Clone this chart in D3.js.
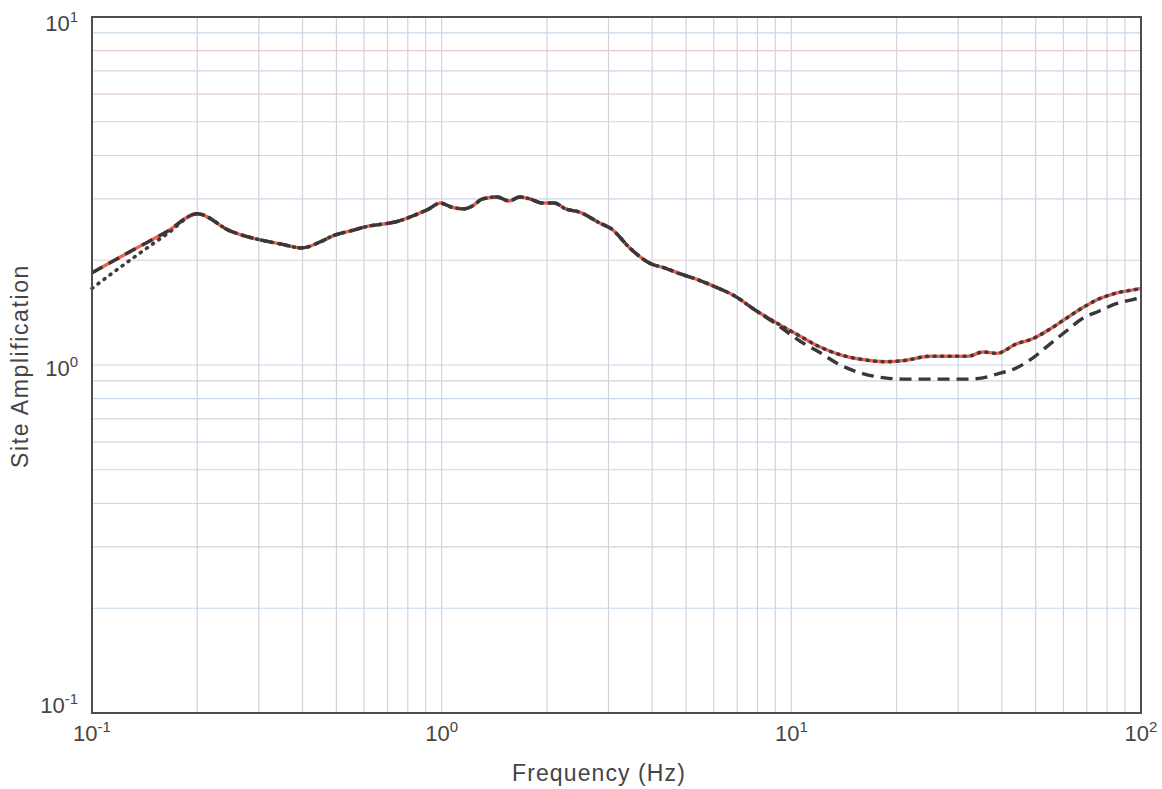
<!DOCTYPE html>
<html>
<head>
<meta charset="utf-8">
<script src="https://cdn.jsdelivr.net/npm/d3@7"></script>
<style>
  html, body { margin: 0; padding: 0; background: #ffffff; }
  svg { display: block; font-family: "Liberation Sans", Arial, Helvetica, sans-serif; }
</style>
</head>
<body>
<svg id="chart" width="1162" height="789"></svg>
<script>
// Frequency grid (Hz) shared by the three amplification curves
const frequency = [
  0.100, 0.131, 0.164, 0.200, 0.248, 0.296, 0.344, 0.398, 0.450, 0.488,
  0.550, 0.622, 0.678, 0.740, 0.826, 0.920, 0.990, 1.07, 1.16, 1.22,
  1.31, 1.44, 1.56, 1.67, 1.79, 1.94, 2.10, 2.26, 2.48, 2.83,
  3.06, 3.45, 3.94, 4.35, 4.79, 5.30, 6.03, 6.88, 7.95, 8.97,
  10.6, 12.0, 13.8, 16.0, 18.5, 21.0, 25.0, 28.0, 32.0, 35.3,
  38.7, 44.0, 49.0, 55.0, 61.0, 68.0, 76.0, 85.0, 97.0, 100.0
];

// Solid (red) curve
const solidAmp = [
  1.84, 2.14, 2.42, 2.72, 2.43, 2.30, 2.23, 2.17, 2.26, 2.35,
  2.43, 2.51, 2.54, 2.58, 2.68, 2.81, 2.92, 2.84, 2.81, 2.86,
  3.00, 3.04, 2.96, 3.04, 3.00, 2.92, 2.92, 2.81, 2.75, 2.56,
  2.46, 2.17, 1.96, 1.90, 1.83, 1.77, 1.68, 1.58, 1.43, 1.33,
  1.21, 1.13, 1.07, 1.037, 1.022, 1.03, 1.06, 1.06, 1.06, 1.09,
  1.08, 1.15, 1.19, 1.27, 1.36, 1.46, 1.55, 1.61, 1.65, 1.66
];

// Dotted curve
const dottedAmp = [
  1.66, 2.03, 2.38, 2.72, 2.43, 2.30, 2.23, 2.17, 2.26, 2.35,
  2.43, 2.51, 2.54, 2.58, 2.68, 2.81, 2.92, 2.84, 2.81, 2.86,
  3.00, 3.04, 2.96, 3.04, 3.00, 2.92, 2.92, 2.81, 2.75, 2.56,
  2.46, 2.17, 1.96, 1.90, 1.83, 1.77, 1.68, 1.58, 1.43, 1.33,
  1.21, 1.13, 1.07, 1.037, 1.022, 1.03, 1.06, 1.06, 1.06, 1.09,
  1.08, 1.15, 1.19, 1.27, 1.36, 1.46, 1.55, 1.61, 1.65, 1.66
];

// Dashed curve
const dashedAmp = [
  1.84, 2.14, 2.42, 2.72, 2.43, 2.30, 2.23, 2.17, 2.26, 2.35,
  2.43, 2.51, 2.54, 2.58, 2.68, 2.81, 2.92, 2.84, 2.81, 2.86,
  3.00, 3.04, 2.96, 3.04, 3.00, 2.92, 2.92, 2.81, 2.75, 2.56,
  2.46, 2.17, 1.96, 1.90, 1.83, 1.77, 1.68, 1.58, 1.43, 1.32,
  1.17, 1.09, 1.00, 0.945, 0.918, 0.911, 0.911, 0.911, 0.911, 0.918,
  0.942, 0.98, 1.047, 1.15, 1.25, 1.36, 1.43, 1.50, 1.55, 1.56
];

// Decade tick labels: mantissa and exponent
const xTickValues = [0.1, 1, 10, 100];
const xTickExponents = ["-1", "0", "1", "2"];
const yTickValues = [0.1, 1, 10];
const yTickExponents = ["-1", "0", "1"];

const xTitle = "Frequency (Hz)";
const yTitle = "Site Amplification";

// ---- layout ----
const svg = d3.select("#chart");
const plot = { left: 92, top: 17, right: 1141, bottom: 713 };

const x = d3.scaleLog().domain([0.1, 100]).range([plot.left, plot.right]);
const y = d3.scaleLog().domain([0.1, 10]).range([plot.bottom, plot.top]);

// Minor + major grid values (1..9 per decade)
function gridValues(lo, hi) {
  const out = [];
  for (let e = Math.round(Math.log10(lo)); e < Math.round(Math.log10(hi)); e++) {
    for (let m = 1; m <= 9; m++) out.push(m * Math.pow(10, e));
  }
  out.push(hi);
  return out;
}

const grid = svg.append("g").attr("class", "grid");
grid.selectAll("line.v")
  .data(gridValues(0.1, 100).filter(v => v > 0.1 && v < 100))
  .join("line")
  .attr("class", "v")
  .attr("x1", d => x(d)).attr("x2", d => x(d))
  .attr("y1", plot.top).attr("y2", plot.bottom)
  .attr("stroke", "#d4d1df").attr("stroke-width", 1.2);

grid.selectAll("line.h")
  .data(gridValues(0.1, 10).filter(v => v > 0.1 && v < 10))
  .join("line")
  .attr("class", "h")
  .attr("x1", plot.left).attr("x2", plot.right)
  .attr("y1", d => y(d)).attr("y2", d => y(d))
  .attr("stroke", (d, i) => (i % 2 ? "#e2ccd4" : "#c8d8e8"))
  .attr("stroke-width", 1.2);

// ---- curves ----
const rows = frequency.map((f, i) => ({ f, s: solidAmp[i], o: dottedAmp[i], d: dashedAmp[i] }));
const lineFor = key => d3.line()
  .x(r => x(r.f))
  .y(r => y(r[key]))
  .curve(d3.curveMonotoneX);

svg.append("path").datum(rows)
  .attr("d", lineFor("s"))
  .attr("fill", "none").attr("stroke", "#f2604f").attr("stroke-width", 3.4);

svg.append("path").datum(rows)
  .attr("d", lineFor("o"))
  .attr("fill", "none").attr("stroke", "#3c3c3c").attr("stroke-width", 3.6)
  .attr("stroke-dasharray", "1,6.5").attr("stroke-linecap", "round");

svg.append("path").datum(rows)
  .attr("d", lineFor("d"))
  .attr("fill", "none").attr("stroke", "#383838").attr("stroke-width", 3.4)
  .attr("stroke-dasharray", "12,7");

// ---- frame ----
svg.append("rect")
  .attr("x", plot.left).attr("y", plot.top)
  .attr("width", plot.right - plot.left).attr("height", plot.bottom - plot.top)
  .attr("fill", "none").attr("stroke", "#4e4e4e").attr("stroke-width", 2);

// ---- tick labels ----
const textColor = "#454545";

const xLab = svg.append("g").selectAll("text")
  .data(xTickValues)
  .join("text")
  .attr("x", d => x(d))
  .attr("y", 741)
  .attr("text-anchor", "middle")
  .attr("fill", textColor)
  .attr("font-size", 22);
xLab.append("tspan").text("10");
xLab.append("tspan").attr("font-size", 15).attr("dy", -9).text((d, i) => xTickExponents[i]);

const yOffsets = [0, 11, 14];
const yLab = svg.append("g").selectAll("text")
  .data(yTickValues)
  .join("text")
  .attr("x", 78)
  .attr("y", (d, i) => y(d) + yOffsets[i])
  .attr("text-anchor", "end")
  .attr("fill", textColor)
  .attr("font-size", 22);
yLab.append("tspan").text("10");
yLab.append("tspan").attr("font-size", 15).attr("dy", -9).text((d, i) => yTickExponents[i]);

// ---- axis titles ----
svg.append("text")
  .attr("x", 599)
  .attr("y", 781)
  .attr("text-anchor", "middle")
  .attr("fill", textColor)
  .attr("font-size", 23)
  .attr("letter-spacing", 1.1)
  .text(xTitle);

svg.append("text")
  .attr("transform", "translate(28, 366) rotate(-90)")
  .attr("text-anchor", "middle")
  .attr("fill", textColor)
  .attr("font-size", 23)
  .attr("letter-spacing", 1.6)
  .text(yTitle);
</script>
</body>
</html>
